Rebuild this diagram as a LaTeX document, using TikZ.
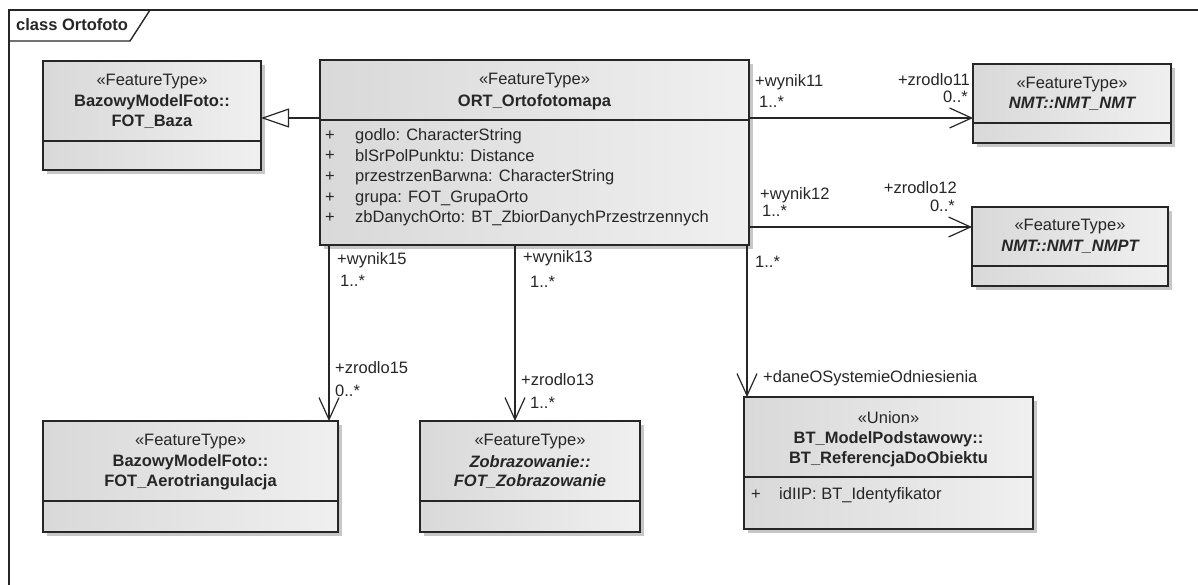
\documentclass[tikz,border=0pt]{standalone}
\usepackage{fontspec}
\setmainfont{Liberation Sans}
\usetikzlibrary{arrows.meta, shadows, calc}

\begin{document}
\begin{tikzpicture}[x=1pt, y=-1pt,
		every node/.style={font=\fontsize{16.5}{19}\selectfont, text=black!85, inner sep=0pt},
		umlclass/.style={draw=black!85, line width=1.4pt, left color=black!15, right color=black!6,
			general shadow={fill=black!22, shadow xshift=4pt, shadow yshift=-4pt}, outer sep=0pt},
		divider/.style={draw=black!85, line width=1.2pt},
		assoc/.style={draw=black!85, line width=1.2pt, -{Straight Barb[length=22pt, width=20pt]}},
		generalization/.style={draw=black!85, line width=1.2pt, -{Triangle[open, length=28pt, width=19pt, fill=white]}},
		role/.style={anchor=west},
		roleend/.style={anchor=east},
		clname/.style={font=\fontsize{16.5}{19}\selectfont\bfseries},
		absname/.style={font=\fontsize{16.5}{19}\selectfont\bfseries\itshape}]
		\useasboundingbox (0,0) rectangle (1198,584);
		
		% frame
		\draw [black!85, line width=1.6pt] (1205,10) -- (9,10) -- (9,590);
		\draw [black!85, line width=1.4pt] (9,41) -- (130,41) -- (150,10);
		\node (frametitle) [clname, anchor=west] at (16,25) {class Ortofoto};
		
		% classes
		\node (baza) [umlclass, minimum width=218pt, minimum height=109pt] at (152,115.5) {};
		\draw [divider] (baza.west |- 0,141) -- (baza.east |- 0,141);
		\node (bazast) at (152,82) {«FeatureType»};
		\node (bazapkg) [clname] at (152,102) {BazowyModelFoto::};
		\node (bazaname) [clname] at (152,122) {FOT\_Baza};
		
		\node (ort) [umlclass, minimum width=429pt, minimum height=185pt] at (534.5,152.5) {};
		\draw [divider] (ort.west |- 0,120) -- (ort.east |- 0,120);
		\node (ortst) at (534.5,81) {«FeatureType»};
		\node (ortname) [clname] at (534.5,102) {ORT\_Ortofotomapa};
		\node (ortp1) at (330,136) {+};
		\node (orta1) [role] at (355,136) {godlo: CharacterString};
		\node (ortp2) at (330,156) {+};
		\node (orta2) [role] at (355,156) {blSrPolPunktu: Distance};
		\node (ortp3) at (330,177) {+};
		\node (orta3) [role] at (355,177) {przestrzenBarwna: CharacterString};
		\node (ortp4) at (330,198) {+};
		\node (orta4) [role] at (355,198) {grupa: FOT\_GrupaOrto};
		\node (ortp5) at (330,218) {+};
		\node (orta5) [role] at (355,218) {zbDanychOrto: BT\_ZbiorDanychPrzestrzennych};
		
		\node (nmt) [umlclass, minimum width=198pt, minimum height=79pt] at (1072,103.5) {};
		\draw [divider] (nmt.west |- 0,123) -- (nmt.east |- 0,123);
		\node (nmtst) at (1072,85) {«FeatureType»};
		\node (nmtname) [absname] at (1072,104) {NMT::NMT\_NMT};
		
		\node (nmpt) [umlclass, minimum width=196pt, minimum height=79pt] at (1070,246.5) {};
		\draw [divider] (nmpt.west |- 0,266) -- (nmpt.east |- 0,266);
		\node (nmptst) at (1070,227) {«FeatureType»};
		\node (nmptname) [absname] at (1070,247) {NMT::NMT\_NMPT};
		
		\node (aero) [umlclass, minimum width=295pt, minimum height=111pt] at (190.5,476.5) {};
		\draw [divider] (aero.west |- 0,501) -- (aero.east |- 0,501);
		\node (aerost) at (190.5,442) {«FeatureType»};
		\node (aeropkg) [clname] at (190.5,462) {BazowyModelFoto::};
		\node (aeroname) [clname] at (190.5,482) {FOT\_Aerotriangulacja};
		
		\node (zobr) [umlclass, minimum width=220pt, minimum height=111pt] at (530,476.5) {};
		\draw [divider] (zobr.west |- 0,501) -- (zobr.east |- 0,501);
		\node (zobrst) at (530,442) {«FeatureType»};
		\node (zobrpkg) [absname] at (530,462) {Zobrazowanie::};
		\node (zobrname) [absname] at (530,482) {FOT\_Zobrazowanie};
		
		\node (bt) [umlclass, minimum width=289pt, minimum height=132pt] at (888.5,463) {};
		\draw [divider] (bt.west |- 0,477) -- (bt.east |- 0,477);
		\node (btst) at (888.5,418) {«Union»};
		\node (btpkg) [clname] at (888.5,439) {BT\_ModelPodstawowy::};
		\node (btname) [clname] at (888.5,459) {BT\_ReferencjaDoObiektu};
		\node (btp1) at (756,495) {+};
		\node (bta1) [role] at (779,495) {idIIP: BT\_Identyfikator};
		
		% connectors
		\draw [generalization] (ort.west |- 0,118) -- (baza.east |- 0,118);
		\draw [assoc] (ort.east |- 0,118) -- (nmt.west |- 0,118);
		\draw [assoc] (ort.east |- 0,227) -- (nmpt.west |- 0,227);
		\draw [assoc] (ort.south -| 329,0) -- (aero.north -| 329,0);
		\draw [assoc] (ort.south -| 515,0) -- (zobr.north -| 515,0);
		\draw [assoc] (ort.south -| 747,0) -- (bt.north -| 747,0);
		
		% role labels
		\node (w11) [role] at (755,82) {+wynik11};
		\node (w11m) [role] at (759,102) {1..*};
		\node (z11) [roleend] at (970,80) {+zrodlo11};
		\node (z11m) [roleend] at (968,97) {0..*};
		
		\node (w12) [role] at (760,195) {+wynik12};
		\node (w12m) [role] at (762,211) {1..*};
		\node (z12) [roleend] at (957,188) {+zrodlo12};
		\node (z12m) [roleend] at (955,206) {0..*};
		
		\node (w15) [role] at (337,260) {+wynik15};
		\node (w15m) [role] at (340,281) {1..*};
		\node (z15) [role] at (335,368) {+zrodlo15};
		\node (z15m) [role] at (335,391) {0..*};
		
		\node (w13) [role, fill=white, inner sep=1pt] at (522,258) {+wynik13};
		\node (w13m) [role] at (530,282) {1..*};
		\node (z13) [role] at (521,380) {+zrodlo13};
		\node (z13m) [role] at (530,403) {1..*};
		
		\node (wbtm) [role] at (755,262) {1..*};
		\node (dane) [role] at (763,378) {+daneOSystemieOdniesienia};
		
	\end{tikzpicture}
\end{document}
